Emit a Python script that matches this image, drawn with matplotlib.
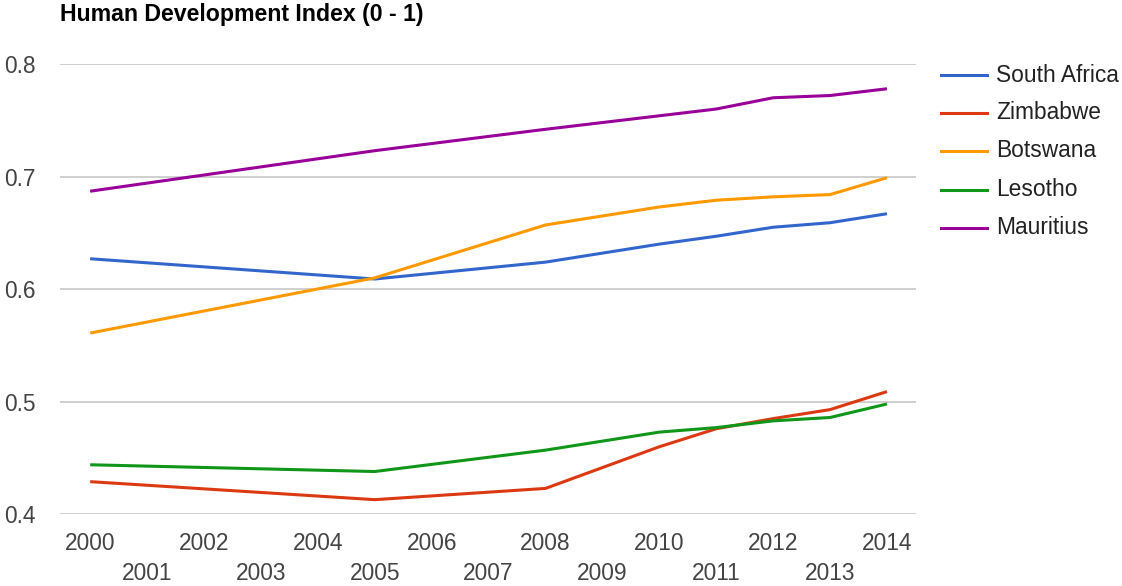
import matplotlib
matplotlib.use("Agg")
import matplotlib.pyplot as plt
from matplotlib.lines import Line2D

plt.rcParams['font.family'] = ['Liberation Sans', 'DejaVu Sans']

years = [2000, 2005, 2008, 2010, 2011, 2012, 2013, 2014]
countries = ["South Africa", "Zimbabwe", "Botswana", "Lesotho", "Mauritius"]
south_africa = [0.627, 0.609, 0.624, 0.640, 0.647, 0.655, 0.659, 0.667]
zimbabwe = [0.429, 0.413, 0.423, 0.460, 0.476, 0.485, 0.493, 0.509]
botswana = [0.561, 0.610, 0.657, 0.673, 0.679, 0.682, 0.684, 0.699]
lesotho = [0.444, 0.438, 0.457, 0.473, 0.477, 0.483, 0.486, 0.498]
mauritius = [0.687, 0.723, 0.742, 0.754, 0.760, 0.770, 0.772, 0.778]
series = [south_africa, zimbabwe, botswana, lesotho, mauritius]
colors = ["#3366cc", "#dc3912", "#ff9900", "#109618", "#990099"]
yticks = [0.4, 0.5, 0.6, 0.7, 0.8]
xticks_even = [2000, 2002, 2004, 2006, 2008, 2010, 2012, 2014]
xticks_odd = [2001, 2003, 2005, 2007, 2009, 2011, 2013]
title = "Human Development Index (0 - 1)"

W, H = 1122, 586
fig = plt.figure(figsize=(W / 100, H / 100), dpi=100)
ax = fig.add_axes([60 / W, 1 - 514.3 / H, (916 - 60) / W, (514.3 - 64) / H])

for vals, c, name in zip(series, colors, countries):
    ax.plot(years, vals, color=c, linewidth=2.2, solid_capstyle='butt', label=name, zorder=3)

ax.set_xlim(1999.47, 2014.51)
ax.set_ylim(0.4, 0.8)
ax.set_yticks(yticks)
ax.set_yticklabels([f"{v:.1f}" for v in yticks])
ax.set_xticks(xticks_even)
ax.set_xticklabels([str(y) for y in xticks_even])
ax.set_xticks(xticks_odd, minor=True)
ax.set_xticklabels([str(y) for y in xticks_odd], minor=True)

for s in ax.spines.values():
    s.set_visible(False)
ax.grid(False)
for v in yticks:
    ax.axhline(v, color="#cccccc", linewidth=1.3, zorder=1)

ax.tick_params(axis='y', length=0, pad=17.3, labelsize=16.4, labelcolor="#444444")
ax.tick_params(axis='x', which='major', length=0, pad=13.0, labelsize=16.4, labelcolor="#444444")
ax.tick_params(axis='x', which='minor', length=0, pad=34.5, labelsize=16.4, labelcolor="#444444")

fig.text(60 / W, 1 - 15 / H, title, fontsize=16.7, fontweight='bold', color="#000000",
         ha='left', va='center')

# legend
row_y = [75, 112.7, 151, 190, 227.7]
for name, c, yy in zip(countries, colors, row_y):
    fig.add_artist(Line2D([940.7 / W, 986.7 / W], [1 - yy / H, 1 - yy / H],
                          color=c, linewidth=2.2, transform=fig.transFigure))
    fig.text(996 / W, 1 - yy / H, name, fontsize=16.4, color="#222222",
             ha='left', va='center')

fig.savefig("out.png", dpi=100)
